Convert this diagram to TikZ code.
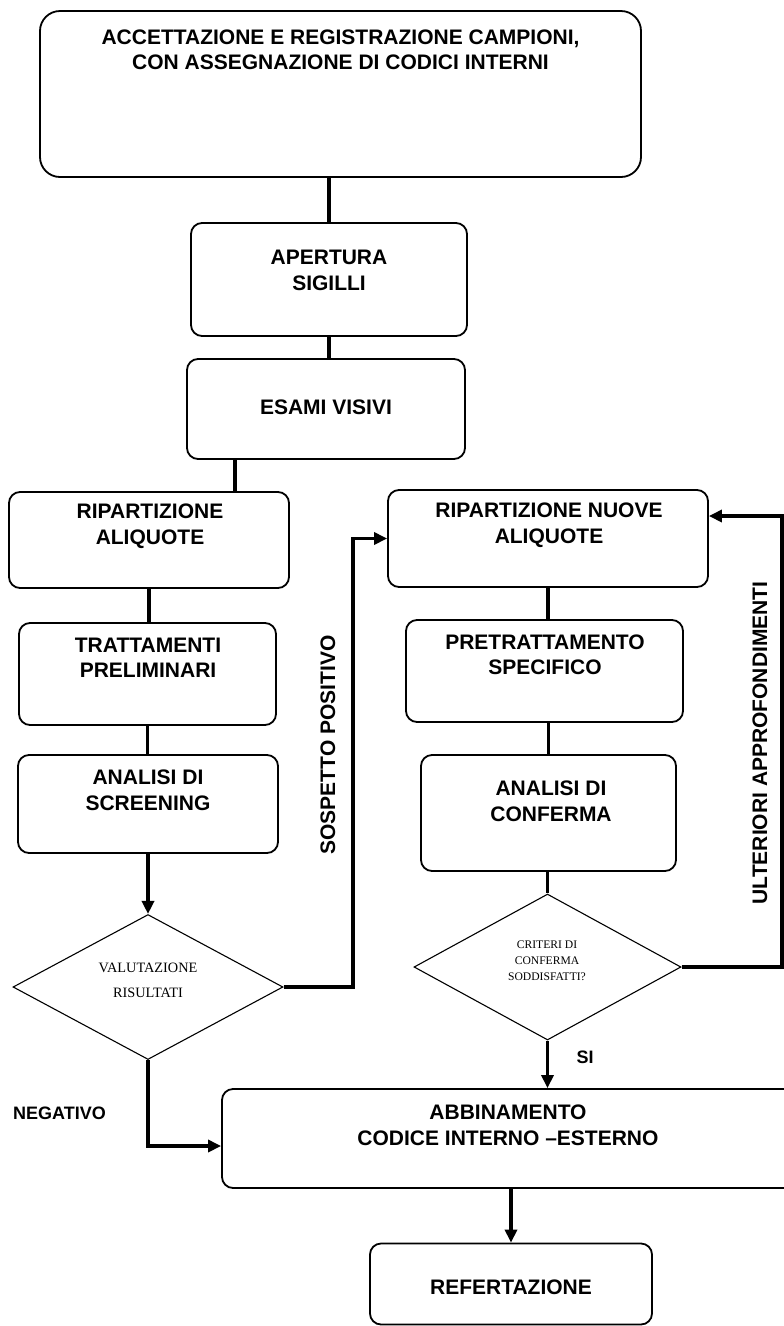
\documentclass[tikz,border=0pt]{standalone}
\usepackage{fontspec}
\setmainfont{Liberation Sans}
\newfontfamily\serifdia{Liberation Serif}
\usetikzlibrary{shapes.geometric,arrows.meta}
\begin{document}
\begin{tikzpicture}[x=1pt,y=-1pt,
  box/.style={draw, rounded corners=11pt, line width=1.8pt, inner sep=0pt},
  dia/.style={draw, diamond, line width=1.1pt, inner sep=0pt, aspect=1.86},
  btxt/.style={font=\bfseries\fontsize{21}{25.5}\selectfont, align=center, inner sep=0pt},
  ltxt/.style={font=\bfseries\fontsize{18}{22}\selectfont, inner sep=0pt},
  dtxt/.style={font=\serifdia\fontsize{14.3}{25}\selectfont, align=center, inner sep=0pt},
  dtxts/.style={font=\serifdia\fontsize{11.6}{16}\selectfont, align=center, inner sep=0pt},
  conn/.style={line width=3.4pt},
  arr/.style={conn, -{Triangle[length=13pt,width=12pt]}}
]
\useasboundingbox (0,0) rectangle (784,1326);
\clip (0,0) rectangle (784,1326);
\fill[white] (0,0) rectangle (784,1326);

% boxes
\node[box, rounded corners=20pt, minimum width=601pt, minimum height=166pt] (B1) at (340.5,94) {};
\node[box, minimum width=276pt, minimum height=113pt] (B2) at (329,279.5) {};
\node[box, minimum width=278pt, minimum height=100pt] (B3) at (326,409) {};
\node[box, minimum width=280pt, minimum height=96pt] (B4) at (149,540) {};
\node[box, minimum width=257pt, minimum height=102pt] (B5) at (147.5,674) {};
\node[box, minimum width=260pt, minimum height=98pt] (B6) at (148,804) {};
\node[dia, minimum width=270pt, minimum height=145pt] (D1) at (148,987) {};
\node[box, minimum width=320pt, minimum height=97pt] (R1) at (548,538.5) {};
\node[box, minimum width=277pt, minimum height=102pt] (R2) at (544.5,671) {};
\node[box, minimum width=255pt, minimum height=116pt] (R3) at (548.5,813) {};
\node[dia, minimum width=267pt, minimum height=146pt] (D2) at (547.5,967) {};
\node[box, minimum width=573pt, minimum height=99pt] (B7) at (508.5,1138.5) {};
\node[box, minimum width=282pt, minimum height=81pt] (B8) at (511,1284) {};

% texts
\node[btxt] (t1) at (340.5,50) {ACCETTAZIONE E REGISTRAZIONE CAMPIONI,\\CON ASSEGNAZIONE DI CODICI INTERNI};
\node[btxt] (t2) at (329,270.5) {APERTURA\\SIGILLI};
\node[btxt] (t3) at (326,407) {ESAMI VISIVI};
\node[btxt] (t4) at (150,526) {RIPARTIZIONE\\ALIQUOTE};
\node[btxt] (t5) at (148,658) {TRATTAMENTI\\PRELIMINARI};
\node[btxt] (t6) at (148,790.5) {ANALISI DI\\SCREENING};
\node[dtxt] (t7) at (148,980.5) {VALUTAZIONE\\RISULTATI};
\node[btxt] (t8) at (549,525) {RIPARTIZIONE NUOVE\\ALIQUOTE};
\node[btxt] (t9) at (545,655) {PRETRATTAMENTO\\SPECIFICO};
\node[btxt] (t10) at (551,801.5) {ANALISI DI\\CONFERMA};
\node[dtxts] (t11) at (547,961) {CRITERI DI\\CONFERMA\\SODDISFATTI?};
\node[btxt] (t12) at (508,1125.5) {ABBINAMENTO\\CODICE INTERNO \textendash ESTERNO};
\node[btxt] (t13) at (511,1287) {REFERTAZIONE};

% labels
\node[btxt, rotate=90] (lsp) at (328,745) {SOSPETTO POSITIVO};
\node[btxt, rotate=90] (lua) at (760,743) {ULTERIORI APPROFONDIMENTI};
\node[ltxt] (lsi) at (585,1057) {SI};
\node[ltxt] (lneg) at (59.5,1113) {NEGATIVO};

% connectors
\draw[conn] (B2.north |- B1.south) -- (B2.north);
\draw[conn] (B2.south) -- (B2.south |- B3.north);
\draw[conn] ([xshift=-91pt]B3.south) -- ([xshift=-91pt]B3.south |- B4.north);
\draw[conn] (B4.south) -- (B4.south |- B5.north);
\draw[conn] (B5.south) -- (B5.south |- B6.north);
\draw[arr] (B6.south) -- (B6.south |- D1.north);
\coordinate (c1) at (353,987);
\draw[arr] (D1.east) -- (c1) |- (R1.west);
\draw[conn] (R1.south) -- (R1.south |- R2.north);
\draw[conn] (R3.north |- R2.south) -- (R3.north);
\draw[conn] (D2.north |- R3.south) -- (D2.north);
\coordinate (c2) at (782,967);
\draw[arr] (D2.east) -- (c2) |- ([yshift=22.5pt]R1.east);
\draw[arr] (D2.south) -- (D2.south |- B7.north);
\draw[arr] (D1.south) |- ([yshift=-7.5pt]B7.west);
\draw[arr] (B8.north |- B7.south) -- (B8.north);
\end{tikzpicture}
\end{document}
